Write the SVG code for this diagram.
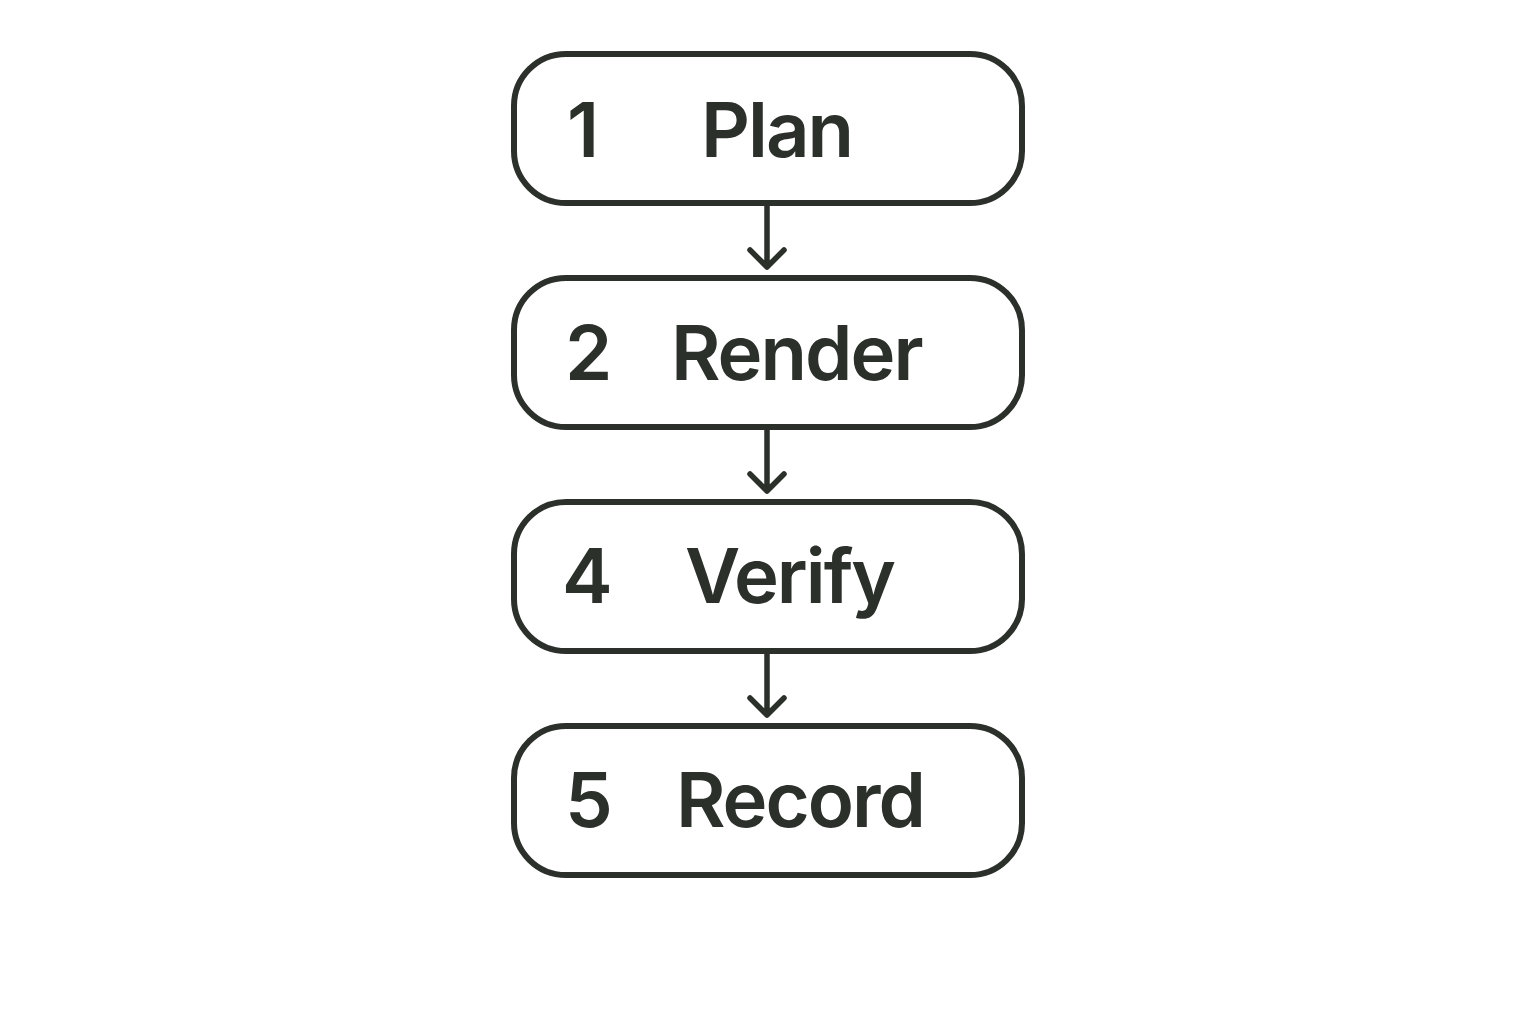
<svg xmlns="http://www.w3.org/2000/svg" width="1536" height="1024" viewBox="0 0 1536 1024">
<style>
.box{fill:#ffffff;stroke:#2b302b;stroke-width:6}
.t{font-family:Inter,"Noto Sans",sans-serif;font-size:76px;font-weight:600;letter-spacing:-2px;fill:#2b302b}
.c{stroke:#2b302b;stroke-width:5.5;fill:none;stroke-linecap:round;stroke-linejoin:round}
</style>
<rect width="1536" height="1024" fill="#ffffff"/>
<g id="connectors">
<path class="c" d="M767 204V267M750 250L767 267L784 250"/>
<path class="c" d="M767 428V491M750 474L767 491L784 474"/>
<path class="c" d="M767 652V715M750 698L767 715L784 698"/>
</g>
<g id="node1"><rect class="box" x="514" y="54" width="508" height="149" rx="52"/><text class="t" x="567" y="157">1</text><text class="t" x="701" y="157">Plan</text></g>
<g id="node2"><rect class="box" x="514" y="278" width="508" height="149" rx="52"/><text class="t" x="565" y="380">2</text><text class="t" x="671" y="380">Render</text></g>
<g id="node3"><rect class="box" x="514" y="502" width="508" height="149" rx="52"/><text class="t" x="562" y="603">4</text><text class="t" x="685" y="603">Verify</text></g>
<g id="node4"><rect class="box" x="514" y="726" width="508" height="149" rx="52"/><text class="t" x="565" y="827">5</text><text class="t" x="676" y="827">Record</text></g>
</svg>
